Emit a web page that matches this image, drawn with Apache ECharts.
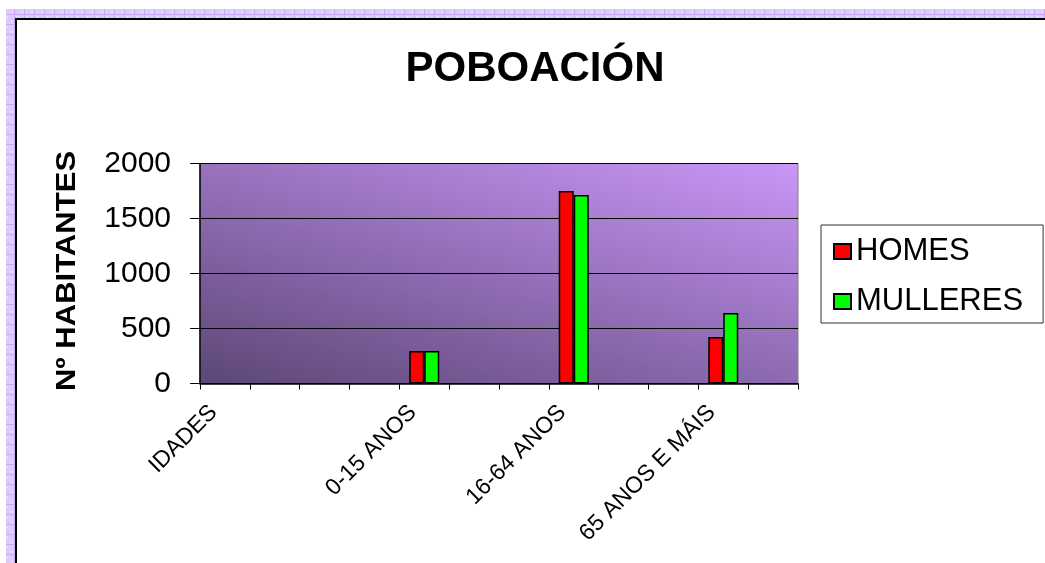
<!DOCTYPE html>
<html>
<head>
    <meta charset="utf-8">
    <title>POBOACIÓN</title>
    <style>
        html, body { margin: 0; padding: 0; background: #fff; }
        #chart1 { width: 1045px; height: 563px; }
    </style>
</head>
<body>
<div id="chart1"></div>
<script src="https://cdn.jsdelivr.net/npm/echarts@6/dist/echarts.min.js"></script>
<script type="text/javascript">
    let categories = ['IDADES', '', '', '', '0-15 ANOS', '', '', '16-64 ANOS', '', '', '65 ANOS E MÁIS', ''];
    let homes = [null, null, null, null, 295, null, null, 1750, null, null, 423, null];
    let mulleres = [null, null, null, null, 295, null, null, 1714, null, null, 641, null];
    let yTicks = [0, 500, 1000, 1500, 2000];

    // textura lila do marco
    let pat = document.createElement('canvas');
    pat.width = 10; pat.height = 10;
    let ctx = pat.getContext('2d');
    ctx.fillStyle = '#dccafa';
    ctx.fillRect(0, 0, 10, 10);
    ctx.fillStyle = '#c9aaf3';
    ctx.fillRect(0, 4, 10, 1);
    ctx.fillRect(4, 0, 1, 10);
    ctx.fillStyle = '#e8dcfc';
    ctx.fillRect(1, 1, 2, 2);
    ctx.fillRect(6, 6, 2, 2);

    let font = 'Liberation Sans, Arial, sans-serif';
    let myChart1 = echarts.init(document.getElementById('chart1'));

    myChart1.setOption({
        backgroundColor: '#ffffff',
        animation: false,
        textStyle: { fontFamily: font, color: '#000' },
        graphic: [
            { type: 'rect', shape: { x: 6, y: 9, width: 1045, height: 9 }, style: { fill: { image: pat, repeat: 'repeat' } }, silent: true },
            { type: 'rect', shape: { x: 6, y: 9, width: 9, height: 560 }, style: { fill: { image: pat, repeat: 'repeat' } }, silent: true },
            { type: 'rect', shape: { x: 15, y: 18, width: 1040, height: 2 }, style: { fill: '#000' }, silent: true },
            { type: 'rect', shape: { x: 15, y: 18, width: 2, height: 560 }, style: { fill: '#000' }, silent: true },
            {
                type: 'text', x: 535, y: 69, silent: true,
                style: {
                    text: 'POBOACIÓN', fontSize: 42, fontWeight: 'bold', fontFamily: font,
                    fill: '#000', textAlign: 'center', textVerticalAlign: 'middle'
                }
            },
            {
                // título do eixo Y (algo estirado, como no orixinal)
                type: 'text', x: 68, y: 271, rotation: Math.PI / 2, scaleX: 1.15, silent: true,
                style: {
                    text: 'Nº HABITANTES', fontSize: 27, fontWeight: 'bold', fontFamily: font,
                    fill: '#000', textAlign: 'center', textVerticalAlign: 'middle'
                }
            }
        ],
        legend: {
            orient: 'vertical',
            left: 821,
            top: 225,
            padding: [11, 20, 6, 12],
            itemGap: 19,
            itemWidth: 17,
            itemHeight: 15,
            icon: 'rect',
            borderColor: '#333',
            borderWidth: 1,
            backgroundColor: '#fff',
            textStyle: { fontSize: 31, fontFamily: font, color: '#000' },
            data: ['HOMES', 'MULLERES']
        },
        grid: {
            left: 200,
            right: 247,
            top: 163.5,
            bottom: 179.5,
            show: true,
            borderColor: '#808080',
            borderWidth: 1,
            backgroundColor: new echarts.graphic.LinearGradient(200, 383.5, 310, 16.5, [
                { offset: 0, color: '#5c4776' },
                { offset: 1, color: '#ca96f8' }
            ], true)
        },
        xAxis: {
            type: 'category',
            data: categories,
            boundaryGap: true,
            axisLine: { lineStyle: { color: '#000', width: 1.5 } },
            axisTick: { show: true, interval: 0, length: 6, lineStyle: { color: '#000' } },
            axisLabel: {
                interval: 0,
                rotate: 45,
                fontSize: 23,
                fontFamily: font,
                color: '#000',
                margin: 14,
                padding: [0, 16, 0, 0]
            },
            splitLine: { show: false }
        },
        yAxis: {
            type: 'value',
            min: yTicks[0],
            max: yTicks[yTicks.length - 1],
            interval: 500,
            axisLine: { show: true, lineStyle: { color: '#000', width: 1.5 } },
            axisTick: { show: true, length: 10, lineStyle: { color: '#000' } },
            axisLabel: {
                fontSize: 30, fontFamily: font, color: '#000', margin: 29,
                formatter: (v) => String(v)
            },
            splitLine: { show: true, lineStyle: { color: '#000', width: 1 } }
        },
        series: [
            {
                name: 'HOMES',
                type: 'bar',
                data: homes,
                barWidth: 15,
                barGap: '0%',
                itemStyle: { color: '#ff0000', borderColor: '#000', borderWidth: 1.5 }
            },
            {
                name: 'MULLERES',
                type: 'bar',
                data: mulleres,
                barWidth: 15,
                itemStyle: { color: '#00ff00', borderColor: '#000', borderWidth: 1.5 }
            }
        ]
    });
</script>
</body>
</html>
